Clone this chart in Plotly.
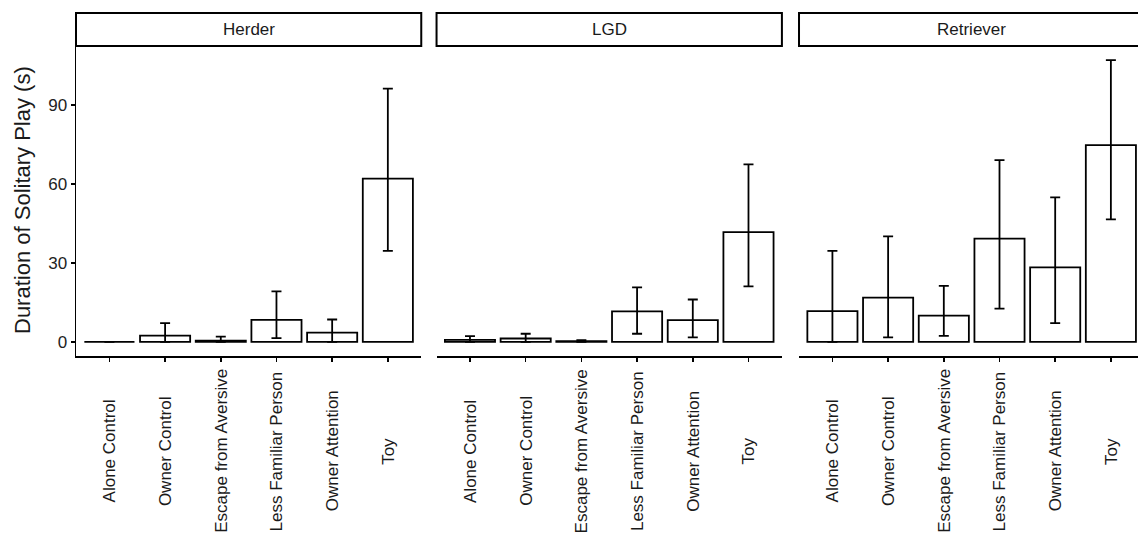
import plotly.graph_objects as go

categories = ["Alone Control", "Owner Control", "Escape from Aversive",
              "Less Familiar Person", "Owner Attention", "Toy"]
groups = ["Herder", "LGD", "Retriever"]

herder_mean = [0.0, 2.4, 0.5, 8.4, 3.5, 62.0]
herder_low = [0.0, 0.0, 0.0, 1.4, 0.0, 34.6]
herder_high = [0.0, 7.1, 2.0, 19.2, 8.5, 96.2]

lgd_mean = [0.8, 1.3, 0.3, 11.6, 8.3, 41.7]
lgd_low = [0.0, 0.0, 0.0, 3.1, 1.7, 21.1]
lgd_high = [2.2, 3.1, 0.7, 20.7, 16.1, 67.4]

retriever_mean = [11.7, 16.8, 10.0, 39.2, 28.3, 74.7]
retriever_low = [0.0, 1.7, 2.3, 12.6, 7.1, 46.5]
retriever_high = [34.6, 40.1, 21.3, 69.0, 54.9, 107.0]

y_ticks = [0, 30, 60, 90]

series = [(herder_mean, herder_low, herder_high),
          (lgd_mean, lgd_low, lgd_high),
          (retriever_mean, retriever_low, retriever_high)]

W, H = 1138, 536
ML, MR, MT, MB = 76, 0, 46, 180
PW = W - ML - MR
PH = H - MT - MB

domains = [[0.0, 0.3251], [0.3395, 0.6647], [0.6808, 1.0]]
ranges = [[-0.6, 5.6], [-0.6, 5.6], [-0.6, 5.487]]

FONT = "Liberation Sans, Arial, Helvetica, sans-serif"
fig = go.Figure()

for i, (m, lo, hi) in enumerate(series):
    xa = "x" if i == 0 else f"x{i+1}"
    fig.add_trace(go.Bar(
        x=categories, y=m, xaxis=xa, yaxis="y", width=0.9,
        marker=dict(color="white", line=dict(color="black", width=1.8)),
        error_y=dict(type="data", symmetric=False,
                     array=[h - v for h, v in zip(hi, m)],
                     arrayminus=[v - l for v, l in zip(m, lo)],
                     color="black", thickness=1.8, width=5),
        showlegend=False, hoverinfo="skip",
    ))

layout = dict(
    width=W, height=H,
    margin=dict(l=ML, r=MR, t=MT, b=MB, pad=0),
    paper_bgcolor="white", plot_bgcolor="white",
    font=dict(family=FONT, color="#222222"),
    yaxis=dict(range=[-5.35, 112.35], tickvals=y_ticks, ticktext=[str(v) for v in y_ticks],
               showline=True, linecolor="black", linewidth=1.5,
               ticks="outside", ticklen=4, tickcolor="black", tickwidth=1.5,
               showgrid=False, zeroline=False, tickfont=dict(size=17, color="#222222"),
               anchor="x"),
    bargap=0.1,
)
for i in range(3):
    key = "xaxis" if i == 0 else f"xaxis{i+1}"
    layout[key] = dict(domain=domains[i], range=ranges[i], type="category",
                       categoryorder="array", categoryarray=categories,
                       showline=True, linecolor="black", linewidth=1.5,
                       ticks="outside", ticklen=4, tickcolor="black", tickwidth=1.5,
                       showticklabels=False, showgrid=False, zeroline=False,
                       anchor="y")
fig.update_layout(**layout)

shapes = []
annotations = []
strip_y0, strip_y1 = 1.0, (H - MB - 13) / PH
for i, g in enumerate(groups):
    x1 = domains[i][1] if i < 2 else 1.02
    shapes.append(dict(type="rect", xref="paper", yref="paper",
                       x0=domains[i][0], x1=x1, y0=strip_y0, y1=strip_y1,
                       line=dict(color="black", width=2), fillcolor="white", layer="above"))
    cx = (domains[i][0] + domains[i][0] + 0.3251) / 2
    annotations.append(dict(text=g, xref="paper", yref="paper", x=cx, y=(strip_y0 + strip_y1) / 2,
                            xanchor="center", yanchor="middle", showarrow=False,
                            font=dict(size=17, color="#1A1A1A", family=FONT)))
    xr = "x" if i == 0 else f"x{i+1}"
    for c in categories:
        annotations.append(dict(text=c, xref=xr, yref="paper", x=c, y=(H - MB - 451) / PH,
                                xanchor="center", yanchor="middle", textangle=-90,
                                showarrow=False,
                                font=dict(size=17, color="#1A1A1A", family=FONT)))

annotations.append(dict(text="Duration of Solitary Play (s)", xref="paper", yref="paper",
                        x=(22 - ML) / PW, y=(H - MB - 200) / PH, xanchor="center", yanchor="middle",
                        textangle=-90, showarrow=False,
                        font=dict(size=22, color="#1A1A1A", family=FONT)))
fig.update_layout(shapes=shapes, annotations=annotations)

fig.write_html("out.html",
               config={"displayModeBar": False, "staticPlot": True},
               post_script="document.body.style.margin='0';document.body.style.overflow='hidden';")
